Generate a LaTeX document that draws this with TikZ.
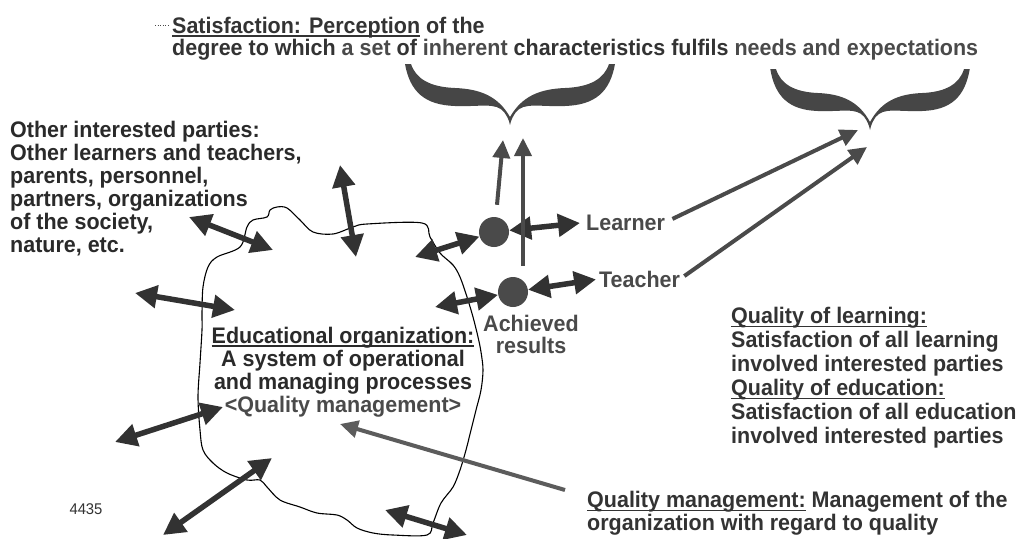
\documentclass[tikz,border=0pt]{standalone}
\usepackage{fontspec}
\setmainfont[FakeStretch=0.955]{Liberation Sans}
\usetikzlibrary{arrows.meta,calc}
\definecolor{ink}{HTML}{2A2A2A}
\definecolor{txt}{HTML}{333333}
\definecolor{soft}{HTML}{4A4A4A}
\definecolor{arr}{HTML}{323232}
\definecolor{bracefill}{HTML}{464646}
% underline that sits just below the baseline
\newcommand{\ulx}[1]{\setbox0\hbox{#1}\rlap{\rule[-3.4pt]{\wd0}{1.4pt}}\box0\relax}
\begin{document}
\begin{tikzpicture}[x=1pt,y=-1pt,
  lbl/.style={font=\fontsize{22.5}{23}\selectfont\bfseries, text=txt, inner sep=0pt, align=left},
  dbl/.style={draw=arr, line width=5.5pt, {Triangle[length=22pt,width=22pt]}-{Triangle[length=22pt,width=22pt]}},
  onew/.style={draw=soft, line width=4pt, -{Triangle[length=18pt,width=17pt]}},
  resdot/.style={circle, fill=soft, minimum size=30pt, inner sep=0pt},
  curlybrace/.pic={
    \fill[bracefill] (-105,-61)
      .. controls (-100,-33) and (-85,-20) .. (-55,-19)
      .. controls (-30,-18) and (-14,-23) .. (-6,-13)
      .. controls (-3,-9) and (-1,-5) .. (0,0)
      .. controls (1,-5) and (3,-9) .. (6,-13)
      .. controls (14,-23) and (30,-18) .. (55,-19)
      .. controls (85,-20) and (100,-33) .. (105,-61)
      -- (99,-61)
      .. controls (94,-46) and (80,-38) .. (55,-37)
      .. controls (30,-36) and (12,-29) .. (0,-8)
      .. controls (-12,-29) and (-30,-36) .. (-55,-37)
      .. controls (-80,-38) and (-94,-46) .. (-99,-61)
      -- cycle;
  }
]
\useasboundingbox (0,0) rectangle (1019,538);
\fill[white] (0,0) rectangle (1019,538);

% outline of the educational organization
\draw[line width=1.1pt] plot[smooth cycle, tension=0.55] coordinates {
  (247,227) (253,220) (267,217) (270,210) (277,207) (287,208) (300,220)
  (313,232) (333,234) (353,227) (367,224) (422,223) (430,237) (440,253)
  (453,265) (460,277) (467,297) (473,317) (478,337) (481,352) (483,370)
  (481,390) (476,410) (471,430) (466,450) (460,470) (453,487) (441,503)
  (433,523) (427,535) (393,535) (373,533) (357,528) (347,520) (337,515)
  (317,513) (300,507) (280,500) (267,487) (260,480) (247,480) (227,473)
  (213,463) (203,450) (200,430) (198,397) (200,363) (202,330) (202,313)
  (203,287) (208,267) (217,257) (240,247)};

% braces
\pic at (510,125) {curlybrace};
\pic[xscale=0.95] at (870,130) {curlybrace};

% texts
\draw[soft, line width=0.6pt, dotted] (155,25) -- (170,25);
\node[lbl, anchor=north west, font=\fontsize{22.5}{22}\selectfont\bfseries] (sat) at (172,16.6)
  {\ulx{Satisfaction: Perception} of the\\
   degree to which {\color{soft}a set} of {\color{soft}inherent} characteristics fulfils {\color{soft}needs and expectations}};

\node[lbl, anchor=north west, text=ink] (others) at (10,120.6)
  {Other interested parties:\\ Other learners and teachers,\\ parents, personnel,\\ partners, organizations\\ of the society,\\ nature, etc.};

\node[lbl, align=center, anchor=north, text=ink] (org) at (343,326.6)
  {\ulx{Educational organization:}\\ A system of operational\\ and managing processes\\ {\color{soft}<Quality management>}};

\node[lbl, align=center, anchor=north, text=soft, font=\fontsize{22.5}{21.5}\selectfont\bfseries] (ach) at (531,315)
  {Achieved\\ results};

\node[lbl, anchor=base west, text=soft] (learner) at (586,230) {Learner};
\node[lbl, anchor=base west, text=soft] (teacher) at (599,287) {Teacher};

\node[lbl, anchor=north west, font=\fontsize{22.5}{24}\selectfont\bfseries] (qual) at (731,307)
  {\ulx{Quality of learning:}\\ Satisfaction of all learning\\ involved interested parties\\
   \ulx{Quality of education:}\\ Satisfaction of all education\\ involved interested parties};

\node[lbl, anchor=north west] (qm) at (587,491.3)
  {\ulx{Quality management:} Management of the\\ organization with regard to quality};

\node[font=\fontsize{15.5}{17}\selectfont, text=txt, inner sep=0pt] (num) at (86,509) {4435};

% achieved results
\node[resdot] (c1) at (494,232) {};
\node[resdot] (c2) at (513,292) {};

% free ends of the connectors
\coordinate (a1s) at (340,165); \coordinate (a1e) at (356,257);
\coordinate (a2s) at (189,217); \coordinate (a2e) at (273,250);
\coordinate (a3s) at (135,293); \coordinate (a3e) at (235,310);
\coordinate (a4s) at (415,257);
\coordinate (a6s) at (435,307);
\coordinate (b1s) at (115,442); \coordinate (b1e) at (223,407);
\coordinate (b2s) at (163,535); \coordinate (b2e) at (272,458);
\coordinate (b3s) at (385,510); \coordinate (b3e) at (467,535);
\coordinate (up1) at (503,140); \coordinate (up2) at (523,138);
\coordinate (bt1) at (858,130); \coordinate (bt2) at (867,147);
\coordinate (qmtail) at (565,490); \coordinate (qmtip) at (340,424);

% interactions with the surroundings
\draw[dbl] (a1s) -- (a1e);
\draw[dbl] (a2s) -- (a2e);
\draw[dbl] (a3s) -- (a3e);
\draw[dbl] (a4s) -- (c1);
\draw[dbl] (a6s) -- (c2);
\draw[dbl] (b1s) -- (b1e);
\draw[dbl] (b2s) -- (b2e);
\draw[dbl] (b3s) -- (b3e);
\draw[dbl, shorten >=6pt] (c1) -- (learner.west);
\draw[dbl, shorten >=3pt] (c2) -- (teacher.west);

% results towards satisfaction
\draw[onew] ([shift={(3,-12)}]c1.north) -- (up1);
\draw[onew] ([shift={(10,-11)}]c2.north) -- (up2);
\draw[onew, shorten <=8pt] (learner.east) -- (bt1);
\draw[onew, shorten <=5pt] (teacher.east) -- (bt2);
\draw[onew, draw=soft!90!white] (qmtail) -- (qmtip);
\end{tikzpicture}
\end{document}
